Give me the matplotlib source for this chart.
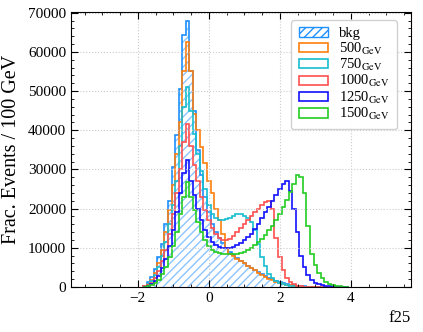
import numpy as np
import matplotlib
matplotlib.use("Agg")
import matplotlib.pyplot as plt
from matplotlib.ticker import MultipleLocator
from matplotlib.patches import Patch

plt.rcParams['font.family'] = 'serif'
plt.rcParams['font.serif'] = ['Liberation Serif', 'DejaVu Serif']
plt.rcParams['mathtext.fontset'] = 'stix'

# histogram binning of f25 (bin width 0.1)
bin_lo = -1.85
bin_w = 0.1

# bin contents, one value per bin from -1.85 to 3.95
bkg = [300, 1200, 2500, 4500, 7500, 11000, 16000, 22000, 30500, 38700,
       50600, 64400, 67900, 55200, 45000, 35000, 28500, 23000, 19000, 16000,
       14000, 12500, 11200, 10000, 9000, 8200, 7400, 6700, 6000, 5400,
       4800, 4200, 3700, 3200, 2700, 2300, 1900, 1500, 1200, 900,
       700, 500, 350, 250, 150, 100, 50, 0, 0, 0,
       0, 0, 0, 0, 0, 0, 0, 0]
m500 = [200, 700, 1800, 3500, 6000, 9500, 14000, 19500, 26000, 34000,
        42000, 55200, 62400, 55000, 44200, 40000, 35700, 31500, 27000, 24000,
        20000, 17000, 13500, 10000, 8500, 7800, 7200, 6600, 6000, 5400,
        4800, 4200, 3600, 3100, 2600, 2100, 1700, 1300, 1000, 700,
        500, 350, 200, 120, 60, 30, 0, 0, 0, 0,
        0, 0, 0, 0, 0, 0, 0, 0]
m750 = [200, 600, 1500, 3000, 5000, 8000, 11500, 16000, 21000, 27000,
        36000, 45900, 51000, 45000, 39000, 34000, 29500, 25000, 21000, 18500,
        17500, 17000, 17000, 17200, 17500, 18000, 18500, 18600, 18200, 17500,
        16500, 14500, 11000, 7700, 5200, 3400, 2200, 1400, 900, 600,
        400, 250, 150, 80, 40, 0, 0, 0, 0, 0,
        0, 0, 0, 0, 0, 0, 0, 0]
m1000 = [100, 400, 1000, 2200, 4000, 6500, 9500, 13500, 18500, 24000,
         30000, 37000, 41700, 36000, 31000, 27000, 23000, 19500, 17000, 15000,
         13500, 12500, 12000, 12000, 12300, 13000, 14000, 15000, 16000, 17000,
         18000, 19000, 20000, 20800, 21700, 21800, 20000, 12500, 7700, 4300,
         2300, 1200, 600, 300, 150, 80, 0, 0, 0, 0,
         0, 0, 0, 0, 0, 0, 0, 0]
m1250 = [50, 250, 700, 1500, 2800, 4800, 7000, 10500, 14500, 19000,
         24000, 29000, 32500, 27000, 23500, 20000, 17000, 14500, 12800, 11500,
         10800, 10200, 10000, 10000, 10000, 10200, 10600, 11200, 11900, 12700,
         13600, 14800, 16000, 17500, 19000, 20500, 22000, 23500, 25000, 26300,
         27000, 24500, 20000, 14000, 8000, 5000, 3000, 1800, 1000, 600,
         350, 200, 100, 50, 0, 0, 0, 0]
m1500 = [30, 150, 400, 900, 1800, 3200, 5000, 7500, 10500, 14000,
         18500, 23000, 26800, 23000, 19500, 16500, 14000, 12000, 10500, 9500,
         8900, 8600, 8400, 8300, 8300, 8300, 8400, 8600, 8900, 9300,
         9900, 10600, 11400, 12300, 13300, 14400, 15600, 17000, 18500, 20300,
         22300, 24300, 26300, 28500, 28000, 24000, 15500, 8500, 5500, 3500,
         2200, 1300, 800, 500, 300, 150, 50, 0]

labels = ['bkg', r'500$_{\rm GeV}$', r'750$_{\rm GeV}$', r'1000$_{\rm GeV}$',
          r'1250$_{\rm GeV}$', r'1500$_{\rm GeV}$']
colors = ['#1e90ff', '#ff7f0e', '#17becf', '#ff4f4f', '#1010ff', '#22cc22']

edges = bin_lo + bin_w * np.arange(len(bkg) + 1)

fig = plt.figure(figsize=(4.23, 3.32), dpi=100)
ax = fig.add_axes([0.168, 0.136, 0.804, 0.828])

# background: hatched fill plus solid outline
ax.stairs(bkg, edges, fill=True, facecolor='none', edgecolor='#8cc4ff',
          hatch='////', linewidth=0)
ax.stairs(bkg, edges, color=colors[0], linewidth=1.2)
for vals, c in zip([m500, m750, m1000, m1250, m1500], colors[1:]):
    ax.stairs(vals, edges, color=c, linewidth=1.2)

handles = [Patch(facecolor='none', edgecolor=colors[0], hatch='////', linewidth=1.0)]
handles += [Patch(facecolor='none', edgecolor=c, linewidth=1.2) for c in colors[1:]]
ax.legend(handles, labels, loc='upper right', fontsize=10.5,
          bbox_to_anchor=(0.959, 0.971), borderaxespad=0, handlelength=2.0,
          handleheight=0.6, labelspacing=0.02, borderpad=0.5,
          fancybox=True, framealpha=0.9)

ax.set_xlim(-3.88, 5.7)
ax.set_ylim(0, 70200)
ax.xaxis.set_major_locator(MultipleLocator(2))
ax.xaxis.set_minor_locator(MultipleLocator(0.5))
ax.yaxis.set_major_locator(MultipleLocator(10000))
ax.yaxis.set_minor_locator(MultipleLocator(2000))
ax.tick_params(which='both', direction='in', top=True, right=True, labelsize=11)
ax.tick_params(which='major', length=5)
ax.tick_params(which='minor', length=2.5)
ax.grid(True, which='major', color='#cccccc', linestyle=':', linewidth=0.8)

ax.set_ylabel('Frac. Events / 100 GeV', fontsize=14.5, labelpad=5)
ax.set_xlabel('f25', fontsize=12, loc='right')

fig.savefig('out.png', dpi=100)
